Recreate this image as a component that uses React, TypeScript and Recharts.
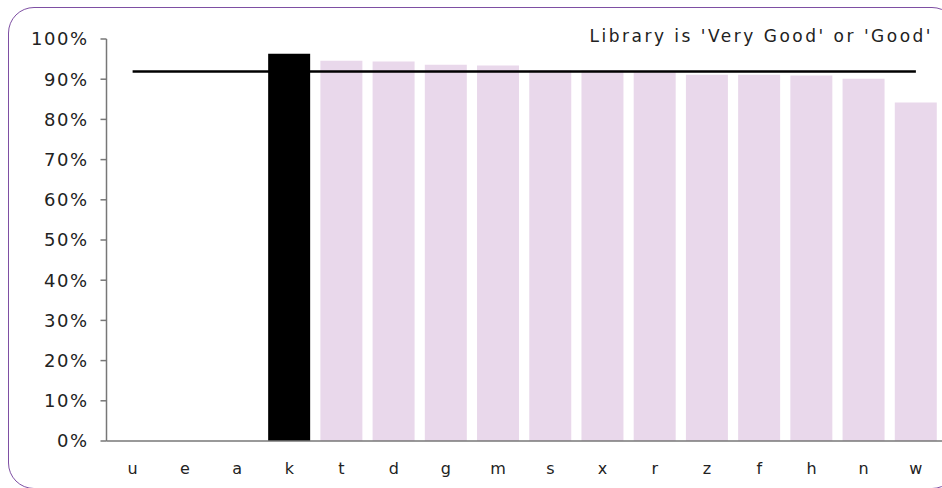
import React from "react";
import { ComposedChart, Bar, Line, XAxis, YAxis, Cell } from "recharts";

const categories = ["u", "e", "a", "k", "t", "d", "g", "m", "s", "x", "r", "z", "f", "h", "n", "w"];
const libraryGood = [null, null, null, 96.3, 94.6, 94.4, 93.6, 93.4, 92.2, 92.2, 91.7, 91.1, 91.1, 90.9, 90.1, 84.2];
const benchmark = [91.9, 91.9, 91.9, 91.9, 91.9, 91.9, 91.9, 91.9, 91.9, 91.9, 91.9, 91.9, 91.9, 91.9, 91.9, 91.9];
const highlighted = "k";
const yTicks = [0, 10, 20, 30, 40, 50, 60, 70, 80, 90, 100];
const legendLabel = "Library is 'Very Good' or 'Good'";

const data = categories.map((c, i) => ({ name: c, value: libraryGood[i], bench: benchmark[i] }));

const FONT = "'DejaVu Sans', Verdana, sans-serif";

export default function App() {
  return (
    <div
      style={{
        position: "fixed",
        left: 0,
        top: 0,
        width: 942,
        height: 488,
        overflow: "hidden",
        background: "#fff",
      }}
    >
      <div
        style={{
          position: "absolute",
          left: 8,
          top: 7,
          width: 950,
          height: 482,
          border: "1.5px solid #7E4FA3",
          borderRadius: 26,
          boxSizing: "border-box",
        }}
      />
      <div style={{ position: "absolute", left: 0, top: 0 }}>
        <ComposedChart
          width={942}
          height={488}
          data={data}
          margin={{ top: 39, right: 0, bottom: 6, left: 0 }}
        >
          <XAxis
            dataKey="name"
            axisLine={{ stroke: "#777", strokeWidth: 1.5 }}
            tickLine={false}
            tickSize={0}
            tickMargin={22}
            height={41}
            interval={0}
            tick={{ fontFamily: FONT, fontSize: 16, fill: "#222" }}
          />
          <YAxis
            domain={[0, 100]}
            ticks={yTicks}
            width={106.5}
            axisLine={{ stroke: "#777", strokeWidth: 1.5 }}
            tickLine={{ stroke: "#777", strokeWidth: 1.5 }}
            tickSize={6}
            tickMargin={12}
            tickFormatter={(v: number) => `${v}%`}
            tick={{ fontFamily: FONT, fontSize: 18, fill: "#222", letterSpacing: 1.5 }}
            interval={0}
          />
          <Bar dataKey="value" barSize={42} isAnimationActive={false}>
            {data.map((d) => (
              <Cell key={d.name} fill={d.name === highlighted ? "#000000" : "#E9D8EB"} />
            ))}
          </Bar>
          <Line dataKey="bench" stroke="#000" strokeWidth={2.5} dot={false} isAnimationActive={false} />
        </ComposedChart>
      </div>
      <div
        style={{
          position: "absolute",
          right: 9,
          top: 26,
          fontFamily: FONT,
          fontSize: 17,
          lineHeight: "21px",
          letterSpacing: 2.5,
          color: "#222",
          whiteSpace: "nowrap",
        }}
      >
        {legendLabel}
      </div>
    </div>
  );
}
